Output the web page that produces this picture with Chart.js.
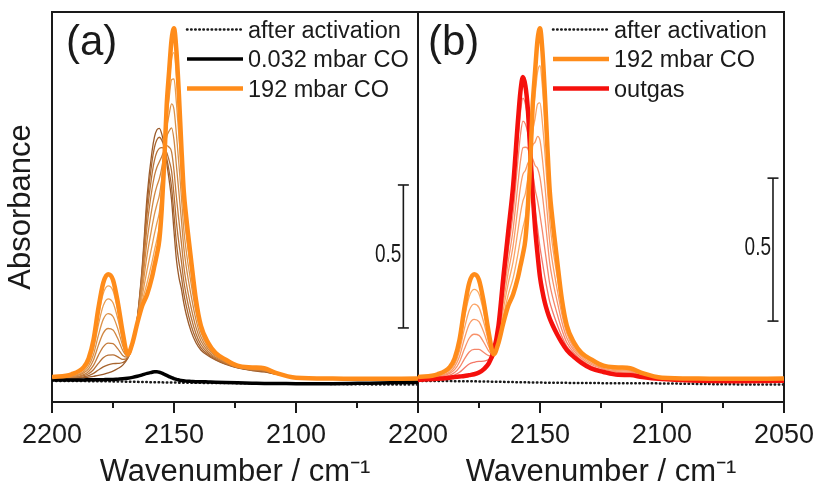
<!DOCTYPE html>
<html><head><meta charset="utf-8">
<script src="https://cdn.jsdelivr.net/npm/chart.js@4.4.1/dist/chart.umd.min.js"></script>
<style>
html,body{margin:0;padding:0;background:#fff;}
#wrap{position:relative;width:820px;height:491px;overflow:hidden;background:#fff;}
canvas{position:absolute;top:0;}
#ca{left:0;}
#cb{left:380px;}
</style></head><body>
<div id="wrap"><canvas id="ca" width="440" height="491"></canvas><canvas id="cb" width="440" height="491"></canvas></div>
<script>
// ---------- data (wavenumber in cm-1, absorbance) ----------
const WN = [2200,2192,2187,2185,2183,2181,2179,2177,2175,2173,2171,2169,2167,2165,2163,2161,2159,2158,2157,2156,2155,2154,2153,2152,2151,2150,2149,2148,2147,2146,2145,2143,2141,2139,2136,2133,2129,2124,2118,2113,2108,2100,2085,2070,2050];

const AFTER_ACT_WN = [2200,2175,2150,2125,2100,2075,2050];
const AFTER_ACT    = [-0.003,-0.005,-0.009,-0.011,-0.012,-0.015,-0.016];

const CO_0032 = [0.000,0.000,0.000,0.001,0.001,0.001,0.001,0.002,0.002,0.003,0.004,0.006,0.009,0.013,0.018,0.023,0.027,0.029,0.029,0.027,0.024,0.020,0.016,0.012,0.008,0.005,0.002,0.000,-0.002,-0.003,-0.004,-0.005,-0.006,-0.006,-0.007,-0.008,-0.009,-0.010,-0.011,-0.012,-0.012,-0.013,-0.013,-0.011,-0.008];

const CO_192 = [0.010,0.020,0.045,0.075,0.140,0.250,0.340,0.370,0.350,0.270,0.165,0.090,0.130,0.200,0.260,0.300,0.360,0.400,0.440,0.490,0.600,0.760,0.960,1.080,1.190,1.230,1.150,1.000,0.820,0.660,0.570,0.420,0.280,0.190,0.130,0.095,0.072,0.050,0.044,0.041,0.024,0.008,0.005,0.004,0.005];

// panel (a): intermediate CO doses, lowest first
const DOSE_1 = [0.000,0.003,0.008,0.010,0.013,0.016,0.020,0.025,0.031,0.040,0.052,0.075,0.120,0.220,0.400,0.645,0.800,0.850,0.875,0.880,0.860,0.820,0.760,0.700,0.630,0.520,0.420,0.360,0.320,0.270,0.230,0.170,0.130,0.105,0.085,0.070,0.055,0.042,0.033,0.028,0.020,0.010,0.003,0.000,0.000];
const DOSE_2 = [0.001,0.004,0.011,0.015,0.023,0.035,0.046,0.053,0.057,0.058,0.061,0.076,0.121,0.218,0.389,0.617,0.765,0.814,0.840,0.849,0.839,0.815,0.776,0.730,0.675,0.577,0.478,0.413,0.363,0.304,0.260,0.192,0.144,0.113,0.089,0.072,0.057,0.043,0.034,0.029,0.020,0.010,0.003,0.000,0.000];
const DOSE_3 = [0.002,0.006,0.015,0.022,0.036,0.058,0.078,0.087,0.088,0.081,0.072,0.078,0.122,0.216,0.375,0.583,0.721,0.769,0.797,0.810,0.813,0.809,0.796,0.768,0.731,0.648,0.551,0.479,0.417,0.347,0.297,0.220,0.162,0.124,0.094,0.075,0.059,0.044,0.035,0.031,0.021,0.010,0.004,0.001,0.001];
const DOSE_4 = [0.003,0.008,0.019,0.030,0.051,0.086,0.116,0.129,0.127,0.109,0.086,0.080,0.123,0.214,0.358,0.541,0.668,0.715,0.744,0.763,0.782,0.802,0.820,0.814,0.798,0.733,0.639,0.558,0.482,0.399,0.341,0.254,0.184,0.137,0.100,0.079,0.061,0.045,0.036,0.032,0.022,0.010,0.004,0.001,0.002];
const DOSE_5 = [0.005,0.011,0.025,0.039,0.070,0.121,0.164,0.180,0.175,0.144,0.103,0.082,0.125,0.211,0.337,0.490,0.602,0.647,0.679,0.704,0.743,0.793,0.850,0.871,0.882,0.840,0.749,0.657,0.563,0.464,0.397,0.296,0.211,0.152,0.108,0.084,0.064,0.047,0.038,0.034,0.022,0.010,0.004,0.002,0.002];
const DOSE_6 = [0.006,0.013,0.030,0.049,0.089,0.156,0.212,0.232,0.222,0.178,0.120,0.084,0.126,0.208,0.316,0.438,0.536,0.580,0.614,0.646,0.704,0.784,0.880,0.928,0.966,0.946,0.858,0.756,0.644,0.528,0.452,0.338,0.238,0.168,0.115,0.088,0.067,0.048,0.039,0.036,0.023,0.010,0.005,0.002,0.003];
const DOSE_7 = [0.008,0.016,0.036,0.059,0.108,0.192,0.260,0.284,0.270,0.213,0.137,0.086,0.128,0.205,0.295,0.386,0.470,0.512,0.549,0.587,0.665,0.775,0.910,0.985,1.050,1.053,0.968,0.855,0.725,0.593,0.508,0.380,0.258,0.178,0.123,0.093,0.070,0.050,0.041,0.039,0.024,0.010,0.005,0.003,0.004];
const DOSE_8 = [0.009,0.018,0.041,0.067,0.125,0.222,0.302,0.329,0.312,0.242,0.151,0.088,0.129,0.202,0.277,0.341,0.413,0.454,0.492,0.537,0.631,0.767,0.936,1.034,1.123,1.145,1.062,0.941,0.795,0.648,0.556,0.416,0.275,0.185,0.129,0.096,0.073,0.051,0.042,0.040,0.024,0.010,0.006,0.004,0.004];

// panel (b): outgassing steps, first step first
const OUT_1 = [0.009,0.018,0.039,0.065,0.121,0.215,0.292,0.317,0.301,0.235,0.149,0.089,0.139,0.224,0.299,0.357,0.443,0.492,0.533,0.571,0.653,0.766,0.913,0.997,1.077,1.099,1.024,0.907,0.767,0.627,0.539,0.406,0.270,0.180,0.127,0.094,0.070,0.048,0.039,0.038,0.023,0.009,0.005,0.003,0.004];
const OUT_2 = [0.007,0.015,0.034,0.055,0.102,0.179,0.243,0.265,0.253,0.200,0.133,0.087,0.148,0.248,0.338,0.414,0.525,0.583,0.626,0.652,0.705,0.772,0.867,0.915,0.965,0.969,0.898,0.795,0.674,0.554,0.478,0.363,0.256,0.170,0.118,0.088,0.064,0.045,0.035,0.034,0.020,0.008,0.003,0.002,0.003];
const OUT_3 = [0.006,0.013,0.028,0.046,0.082,0.144,0.195,0.212,0.204,0.166,0.117,0.086,0.157,0.272,0.377,0.471,0.608,0.675,0.719,0.733,0.758,0.778,0.820,0.832,0.852,0.838,0.772,0.682,0.581,0.482,0.418,0.319,0.229,0.163,0.110,0.082,0.059,0.041,0.032,0.031,0.018,0.007,0.002,0.000,0.001];
const OUT_4 = [0.004,0.010,0.023,0.036,0.063,0.108,0.146,0.160,0.156,0.131,0.101,0.084,0.166,0.296,0.416,0.528,0.690,0.766,0.812,0.814,0.810,0.784,0.774,0.750,0.740,0.708,0.646,0.570,0.488,0.409,0.357,0.276,0.202,0.147,0.102,0.076,0.054,0.038,0.028,0.027,0.016,0.006,0.001,-0.001,0.000];
const OUT_5 = [0.003,0.008,0.017,0.026,0.044,0.073,0.098,0.107,0.107,0.096,0.085,0.083,0.175,0.320,0.455,0.585,0.773,0.858,0.905,0.895,0.863,0.790,0.727,0.667,0.627,0.577,0.520,0.457,0.395,0.336,0.296,0.232,0.175,0.131,0.094,0.070,0.049,0.034,0.024,0.023,0.014,0.005,-0.001,-0.002,-0.001];
const OUT_6 = [0.001,0.006,0.012,0.018,0.027,0.042,0.056,0.062,0.065,0.066,0.071,0.081,0.183,0.341,0.489,0.634,0.844,0.937,0.986,0.965,0.908,0.795,0.687,0.596,0.530,0.464,0.411,0.360,0.314,0.273,0.244,0.195,0.152,0.118,0.087,0.065,0.044,0.031,0.021,0.020,0.012,0.004,-0.002,-0.003,-0.002];
const OUTGAS = [0.000,0.004,0.008,0.010,0.012,0.014,0.017,0.020,0.026,0.038,0.058,0.100,0.190,0.360,0.520,0.680,0.910,1.010,1.060,1.030,0.950,0.800,0.650,0.530,0.440,0.360,0.310,0.270,0.240,0.215,0.195,0.160,0.130,0.105,0.080,0.060,0.040,0.028,0.018,0.017,0.010,0.003,-0.003,-0.004,-0.003];

// scale bars (0.5 absorbance units)
const SCALE_LABEL = '0.5';
const SCALE_A_X = [2056, 2056];
const SCALE_A_Y = [0.182, 0.682];
const SCALE_B_X = [2054.5, 2054.5];
const SCALE_B_Y = [0.206, 0.706];

// axes
const X_MIN = 2050, X_MAX = 2200;
const MINOR_TICKS = [2175, 2125, 2075];
const Y_MIN = -0.077, Y_MAX = 1.287;

// ---------- styling ----------
const FONT = '"Liberation Sans", Arial, Helvetica, sans-serif';
const INK = '#1a1a1a';
const ORANGE = '#ff8c1a';
const RED = '#f5100c';
const DOSE_COLORS = ['#9a5a2a','#a8652f','#b67035','#c47c3c','#d08742','#dc9249','#e89c50','#f2a65a'];
const OUT_COLORS = ['#fcaa62','#fba466','#fa9c68','#f8926a','#f6866a','#f47868'];

function pts(vals, xs) { return (xs || WN).map((w, i) => ({x: w, y: vals[i]})); }
function curve(label, vals, color, width, extra) {
  return Object.assign({
    label, data: pts(vals), borderColor: color, backgroundColor: color,
    borderWidth: width, pointRadius: 0, pointHoverRadius: 0, fill: false,
    cubicInterpolationMode: 'monotone'
  }, extra || {});
}
function dotted() {
  return curve('after activation', AFTER_ACT, INK, 2.5,
    {data: pts(AFTER_ACT, AFTER_ACT_WN), borderDash: [0.5, 3.6], borderCapStyle: 'round'});
}
function scaleBar(xs, ys) {
  return {
    label: 'scale', isScaleBar: true, data: pts(ys, xs), borderColor: INK, backgroundColor: INK,
    borderWidth: 1.6, pointStyle: 'line', pointRadius: 5.5, pointBorderWidth: 1.6,
    pointBorderColor: INK, pointHoverRadius: 0
  };
}

const decor = {
  id: 'decor',
  afterDatasetsDraw(chart, _a, opt) {
    const ctx = chart.ctx, ca = chart.chartArea, ds = chart.data.datasets;
    ctx.save();
    ctx.fillStyle = INK;
    ctx.textAlign = 'left';
    ctx.textBaseline = 'alphabetic';
    ctx.font = '42px ' + FONT;
    ctx.fillText(opt.panel, ca.left + opt.panelDx, ca.top + 43);
    ctx.font = '23.5px ' + FONT;
    opt.legend.forEach((lab, i) => {
      const d = ds.find(e => e.label === lab);
      const y = ca.top + 17.5 + i * 29.5;
      ctx.save();
      ctx.strokeStyle = d.borderColor;
      ctx.lineWidth = d.borderWidth;
      ctx.lineCap = d.borderCapStyle || 'butt';
      ctx.setLineDash(d.borderDash || []);
      ctx.beginPath();
      ctx.moveTo(ca.left + 135, y);
      ctx.lineTo(ca.left + 191, y);
      ctx.stroke();
      ctx.restore();
      ctx.fillText(lab, ca.left + 196, y + 8);
    });
    const bar = ds.find(e => e.isScaleBar);
    if (bar) {
      const bx = chart.scales.x.getPixelForValue(bar.data[0].x);
      const by = chart.scales.y.getPixelForValue((bar.data[0].y + bar.data[1].y) / 2);
      ctx.save();
      ctx.translate(bx - 2, by - 1.5);
      ctx.scale(0.76, 1);
      ctx.font = '25px ' + FONT;
      ctx.textAlign = 'right';
      ctx.textBaseline = 'middle';
      ctx.fillText(SCALE_LABEL, 0, 0);
      ctx.restore();
    }
    ctx.restore();
  }
};

function scales(isA) {
  const plainBorder = {display: true, color: INK, width: 2};
  return {
    x: {
      type: 'linear', min: X_MIN, max: X_MAX, reverse: true,
      ticks: {stepSize: 50, color: INK, font: {family: FONT, size: 27}, padding: 6,
        maxRotation: 0, minRotation: 0, autoSkip: false,
        callback: v => (isA && v === X_MIN) ? '' : String(v)},
      grid: {display: true, drawOnChartArea: false, drawTicks: true, tickLength: 11,
        color: INK, lineWidth: 2, tickWidth: 2},
      border: plainBorder,
      title: {display: true, text: 'Wavenumber / cm\u207B\u00B9', color: INK,
        font: {family: FONT, size: 31}, padding: {top: 0, bottom: 0}},
      afterFit: s => { s.height = 89; }
    },
    xm: {
      axis: 'x', type: 'linear', min: X_MIN, max: X_MAX, reverse: true,
      position: {y: Y_MIN},
      ticks: {display: false},
      grid: {display: true, drawOnChartArea: false, drawTicks: true, tickLength: 6,
        color: INK, lineWidth: 2, tickWidth: 2},
      border: {display: false},
      afterBuildTicks: s => { s.ticks = MINOR_TICKS.map(v => ({value: v})); }
    },
    x2: {
      axis: 'x', type: 'linear', position: 'top', display: true,
      ticks: {display: false}, grid: {display: false}, border: plainBorder,
      afterFit: s => { s.height = 0; }
    },
    y: isA ? {
      type: 'linear', min: Y_MIN, max: Y_MAX, display: true,
      ticks: {display: false}, grid: {display: false}, border: plainBorder,
      title: {display: true, text: 'Absorbance', color: INK,
        font: {family: FONT, size: 31}, padding: {top: 3, bottom: 0}},
      afterFit: s => { s.width = 52; }
    } : {type: 'linear', min: Y_MIN, max: Y_MAX, display: false},
    y2: {
      axis: 'y', type: 'linear', position: 'right', display: true,
      ticks: {display: false}, grid: {display: false}, border: plainBorder,
      afterFit: s => { s.width = 0; }
    }
  };
}

function build(canvasId, isA, datasets, padding, decorOpts) {
  return new Chart(document.getElementById(canvasId), {
    type: 'line',
    data: {datasets},
    options: {
      responsive: false, animation: false, devicePixelRatio: 1,
      layout: {padding},
      scales: scales(isA),
      plugins: {legend: {display: false}, tooltip: {enabled: false}, decor: decorOpts}
    },
    plugins: [decor]
  });
}

// panel (a): first dataset is drawn on top
const dsA = [
  curve('192 mbar CO', CO_192, ORANGE, 4.5),
  scaleBar(SCALE_A_X, SCALE_A_Y),
  curve('0.032 mbar CO', CO_0032, '#000000', 3.5),
  curve('', DOSE_8, DOSE_COLORS[7], 1.3),
  curve('', DOSE_7, DOSE_COLORS[6], 1.3),
  curve('', DOSE_6, DOSE_COLORS[5], 1.3),
  curve('', DOSE_5, DOSE_COLORS[4], 1.3),
  curve('', DOSE_4, DOSE_COLORS[3], 1.3),
  curve('', DOSE_3, DOSE_COLORS[2], 1.3),
  curve('', DOSE_2, DOSE_COLORS[1], 1.3),
  curve('', DOSE_1, DOSE_COLORS[0], 1.3),
  dotted()
];
build('ca', true, dsA, {left: 0, right: 22, top: 12, bottom: 0},
  {panel: '(a)', panelDx: 14, legend: ['after activation', '0.032 mbar CO', '192 mbar CO']});

// panel (b)
const dsB = [
  curve('192 mbar CO', CO_192, ORANGE, 4.5),
  scaleBar(SCALE_B_X, SCALE_B_Y),
  curve('outgas', OUTGAS, RED, 4.5),
  curve('', OUT_6, OUT_COLORS[5], 1.3),
  curve('', OUT_5, OUT_COLORS[4], 1.3),
  curve('', OUT_4, OUT_COLORS[3], 1.3),
  curve('', OUT_3, OUT_COLORS[2], 1.3),
  curve('', OUT_2, OUT_COLORS[1], 1.3),
  curve('', OUT_1, OUT_COLORS[0], 1.3),
  dotted()
];
build('cb', false, dsB, {left: 38, right: 36, top: 12, bottom: 0},
  {panel: '(b)', panelDx: 10, legend: ['after activation', '192 mbar CO', 'outgas']});
</script>
</body></html>
